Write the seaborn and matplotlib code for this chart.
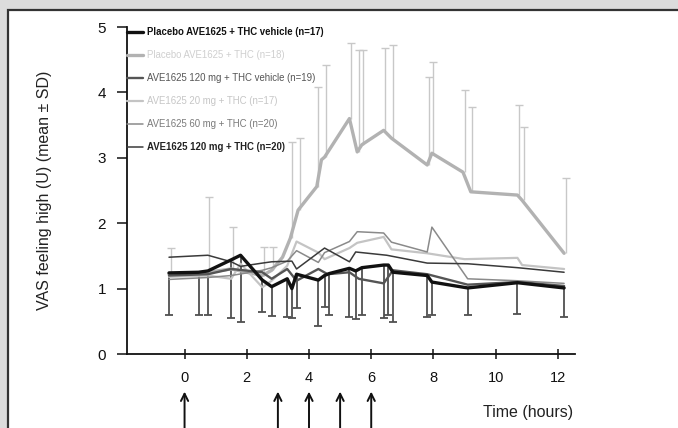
import numpy as np
import pandas as pd
import matplotlib
matplotlib.use("Agg")
import matplotlib.pyplot as plt
import matplotlib.transforms as mtransforms
from matplotlib.patches import Rectangle
import seaborn as sns

# ---- data: VAS "feeling high" (U), mean and SD per treatment group ----
labels = [
    "Placebo AVE1625 + THC vehicle (n=17)",
    "Placebo AVE1625 + THC (n=18)",
    "AVE1625 120 mg + THC vehicle (n=19)",
    "AVE1625 20 mg + THC (n=17)",
    "AVE1625 60 mg + THC (n=20)",
    "AVE1625 120 mg + THC (n=20)",
]

t_pbo_veh = [-0.5, 0.45, 0.75, 1.5, 1.8, 2.5, 2.8, 3.3, 3.45, 3.6, 4.3, 4.5, 4.65,
             5.3, 5.5, 5.7, 6.4, 6.55, 6.7, 7.8, 7.95, 9.1, 10.7, 12.2]
v_pbo_veh = [1.24, 1.25, 1.27, 1.44, 1.51, 1.13, 1.03, 1.15, 1.0, 1.22, 1.13, 1.2, 1.23,
             1.31, 1.27, 1.32, 1.36, 1.36, 1.25, 1.2, 1.1, 1.01, 1.09, 1.01]
sd_pbo_veh = [0.64, 0.65, 0.67, 0.89, 1.02, 0.49, 0.45, 0.58, 0.45, 0.52, 0.70, 0.48, 0.63,
              0.74, 0.73, 0.72, 0.81, 0.76, 0.76, 0.63, 0.50, 0.41, 0.48, 0.44]

t_pbo_thc = [-0.5, 0.75, 1.5, 2.5, 2.8, 3.15, 3.4, 3.65, 4.25, 4.4, 4.5, 5.3, 5.55, 5.7,
             6.4, 6.65, 7.8, 7.95, 8.95, 9.2, 10.7, 10.85, 12.2]
v_pbo_thc = [1.22, 1.25, 1.3, 1.2, 1.28, 1.48, 1.77, 2.2, 2.56, 2.97, 3.01, 3.6, 3.09, 3.2,
             3.42, 3.3, 2.89, 3.07, 2.78, 2.48, 2.43, 2.35, 1.54]
sd_pbo_thc = [0.40, 1.15, 0.64, 0.44, 0.36, np.nan, 1.47, 1.10, 1.52, np.nan, 1.41, 1.15, 1.56, 1.45,
              1.26, 1.43, 1.35, 1.39, 1.26, 1.30, 1.37, 1.12, 1.15]

t_120_veh = [-0.5, 0.75, 1.5, 2.5, 2.8, 3.3, 3.6, 4.3, 4.6, 5.3, 5.6, 6.4, 6.7, 7.8, 9.1, 10.7, 12.2]
v_120_veh = [1.2, 1.22, 1.3, 1.25, 1.15, 1.3, 1.12, 1.3, 1.22, 1.25, 1.15, 1.08, 1.28, 1.22, 1.06, 1.1, 1.04]

t_20_thc = [-0.5, 0.75, 1.5, 1.8, 2.5, 2.8, 3.3, 3.6, 4.3, 4.5, 5.3, 5.55, 6.4, 6.65, 7.8, 9.0,
            10.7, 10.85, 12.2]
v_20_thc = [1.18, 1.2, 1.15, 1.38, 1.02, 1.12, 1.35, 1.72, 1.55, 1.45, 1.62, 1.7, 1.79, 1.6, 1.54, 1.45,
            1.47, 1.36, 1.3]

t_60_thc = [-0.5, 0.75, 1.5, 2.5, 2.8, 3.3, 3.6, 4.3, 4.5, 5.3, 5.55, 6.4, 6.65, 7.8, 7.95, 9.1, 10.7, 12.2]
v_60_thc = [1.14, 1.17, 1.2, 1.28, 1.32, 1.42, 1.58, 1.4, 1.55, 1.72, 1.87, 1.85, 1.71, 1.56, 1.94, 1.15,
            1.12, 1.08]

t_120_thc = [-0.5, 0.75, 1.5, 1.8, 2.5, 2.8, 3.45, 3.6, 4.5, 5.3, 5.5, 6.5, 7.8, 9.1, 10.7, 12.2]
v_120_thc = [1.48, 1.51, 1.41, 1.34, 1.39, 1.41, 1.42, 1.3, 1.62, 1.41, 1.56, 1.51, 1.39, 1.38, 1.32, 1.25]

dose_times = [0, 3, 4, 5, 6]
x_ticks = [0, 2, 4, 6, 8, 10, 12]
y_ticks = [0, 1, 2, 3, 4, 5]

# ---- styling per group ----
line_colors = ["#111111", "#b2b2b2", "#555555", "#c4c4c4", "#8a8a8a", "#3a3a3a"]
line_widths = [2.4, 2.4, 1.7, 1.6, 1.1, 1.1]
text_colors = ["#111111", "#cfcfcf", "#555555", "#c6c6c6", "#7a7a7a", "#222222"]
text_weights = ["bold", "normal", "normal", "normal", "normal", "bold"]

series = [
    (t_pbo_veh, v_pbo_veh),
    (t_pbo_thc, v_pbo_thc),
    (t_120_veh, v_120_veh),
    (t_20_thc, v_20_thc),
    (t_60_thc, v_60_thc),
    (t_120_thc, v_120_thc),
]

sns.set_theme(style="ticks")
plt.rcParams["font.family"] = ["Liberation Sans", "DejaVu Sans"]

fig = plt.figure(figsize=(6.78, 4.28), dpi=100)
fig.patch.set_facecolor("#dcdcdc")
fig.patches.append(Rectangle((8 / 678, -0.05), 1.0, (428 - 10) / 428 + 0.05,
                             transform=fig.transFigure, facecolor="white",
                             edgecolor="#333333", lw=1.6, zorder=-10))

ax = fig.add_axes([127 / 678, 1 - 354 / 428, (575 - 127) / 678, 327 / 428])
ax.set_facecolor("none")

cap_half = 0.13

# SD bars: upward for the THC placebo group, downward for the vehicle placebo group
t_arr = np.array(t_pbo_thc); v_arr = np.array(v_pbo_thc); s_arr = np.array(sd_pbo_thc)
m = ~np.isnan(s_arr)
ax.vlines(t_arr[m] + 0.05, v_arr[m], v_arr[m] + s_arr[m], color="#c8c8c8", lw=1.0, zorder=1)
ax.hlines(v_arr[m] + s_arr[m], t_arr[m] + 0.05 - cap_half, t_arr[m] + 0.05 + cap_half,
          color="#c8c8c8", lw=1.0, zorder=1)

t_arr = np.array(t_pbo_veh); v_arr = np.array(v_pbo_veh); s_arr = np.array(sd_pbo_veh)
ax.vlines(t_arr, v_arr - s_arr, v_arr, color="#505050", lw=1.3, zorder=2)
ax.hlines(v_arr - s_arr, t_arr - cap_half, t_arr + cap_half, color="#505050", lw=1.3, zorder=2)

draw_order = [1, 3, 4, 2, 5, 0]
for i in draw_order:
    t, v = series[i]
    df = pd.DataFrame({"time": t, "vas": v})
    sns.lineplot(data=df, x="time", y="vas", ax=ax, color=line_colors[i],
                 lw=line_widths[i], estimator=None, sort=False, label=labels[i],
                 zorder=3 + (i == 0))

handles, labs = ax.get_legend_handles_labels()
order = [labs.index(l) for l in labels]
leg = ax.legend([handles[k] for k in order], [labs[k] for k in order],
                loc="upper left", bbox_to_anchor=(0.0, 1.0), frameon=False,
                fontsize=6.9, handlelength=1.65, handletextpad=0.45,
                labelspacing=1.36, borderaxespad=0.0, borderpad=0.0)
for txt, c, w in zip(leg.get_texts(), text_colors, text_weights):
    txt.set_color(c)
    txt.set_fontweight(w)

ax.set_xlim(-1.85, 12.55)
ax.set_ylim(0, 5)
ax.set_xticks(x_ticks)
ax.set_yticks(y_ticks)
sns.despine(ax=ax)
for s in ("left", "bottom"):
    ax.spines[s].set_linewidth(1.3)
    ax.spines[s].set_color("#111111")
ax.tick_params(axis="y", direction="out", length=7, width=1.1, pad=8, labelsize=11,
               colors="#111111")
ax.tick_params(axis="x", direction="inout", length=7, width=1.1, pad=9, labelsize=10.5,
               colors="#111111")
ax.set_xlabel("")
ax.set_ylabel("VAS feeling high (U) (mean ± SD)", fontsize=11.5, labelpad=33, color="#222222")

fig.text(573 / 678, 1 - 412 / 428, "Time (hours)", ha="right", va="center",
         fontsize=11.5, color="#222222")

trans = mtransforms.blended_transform_factory(ax.transData, ax.transAxes)
for d in dose_times:
    ax.annotate("", xy=(d, -0.115), xytext=(d, -0.235), xycoords=trans, textcoords=trans,
                annotation_clip=False,
                arrowprops=dict(arrowstyle="->", lw=1.4, color="#111111", mutation_scale=13,
                                shrinkA=0, shrinkB=0))

fig.savefig("out.png", dpi=100, facecolor=fig.get_facecolor())
